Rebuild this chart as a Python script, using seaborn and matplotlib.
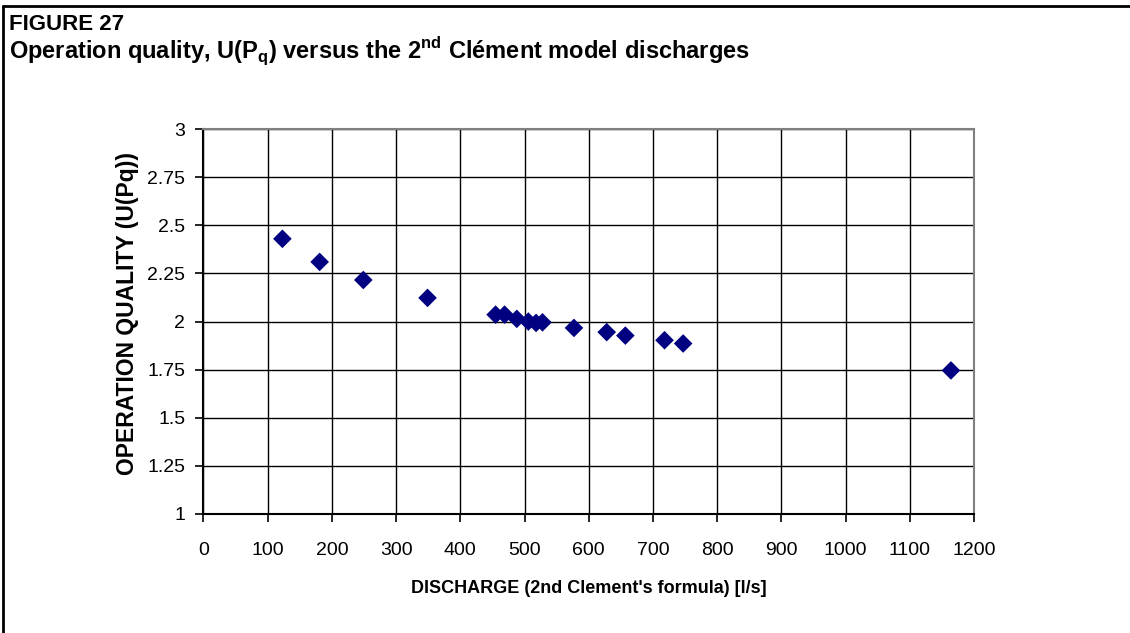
import matplotlib
matplotlib.use("Agg")
import matplotlib.pyplot as plt
import seaborn as sns
import pandas as pd

# valores
discharge = [123, 181, 249, 349, 455, 469, 488, 506, 518, 528, 577, 628, 657, 718, 747, 1164]
quality = [2.43, 2.31, 2.216, 2.123, 2.036, 2.036, 2.014, 2.0, 1.993, 1.996, 1.967,
           1.945, 1.927, 1.903, 1.886, 1.746]
x_ticks = list(range(0, 1300, 100))
y_ticks = [1, 1.25, 1.5, 1.75, 2, 2.25, 2.5, 2.75, 3]
y_tick_labels = ['1', '1.25', '1.5', '1.75', '2', '2.25', '2.5', '2.75', '3']

df = pd.DataFrame({'discharge': discharge, 'quality': quality})

sns.set_style('white')
plt.rcParams['font.family'] = ['Liberation Sans', 'DejaVu Sans']
plt.rcParams['text.color'] = 'black'
plt.rcParams['axes.labelcolor'] = 'black'
plt.rcParams['xtick.color'] = 'black'
plt.rcParams['ytick.color'] = 'black'
plt.rcParams['mathtext.fontset'] = 'custom'
plt.rcParams['mathtext.rm'] = 'Liberation Sans'
plt.rcParams['mathtext.bf'] = 'Liberation Sans:bold'

fig = plt.figure(figsize=(11.3, 6.33), dpi=100)
ax = fig.add_axes([0.180, 0.188, 0.682, 0.608])

sns.scatterplot(data=df, x='discharge', y='quality', marker='D', color='#000080',
                edgecolor='none', s=90, ax=ax, zorder=3)

ax.set_xlim(0, 1200)
ax.set_ylim(1, 3)
ax.set_xticks(x_ticks)
ax.set_yticks(y_ticks)
ax.set_yticklabels(y_tick_labels)
ax.grid(True, color='black', linewidth=1)
ax.set_axisbelow(True)
ax.tick_params(axis='both', direction='out', length=6, width=1.2, color='black',
               labelsize=14, bottom=True, left=True)
ax.tick_params(axis='y', pad=7)
ax.tick_params(axis='x', pad=14)

ax.spines['left'].set_color('black')
ax.spines['bottom'].set_color('black')
ax.spines['left'].set_linewidth(1.5)
ax.spines['bottom'].set_linewidth(1.5)
ax.spines['top'].set_color('#808080')
ax.spines['right'].set_color('#808080')
ax.spines['top'].set_linewidth(1.5)
ax.spines['right'].set_linewidth(1.5)

ax.set_xlabel("DISCHARGE (2nd Clement's formula) [l/s]", fontsize=13, fontweight='bold',
              labelpad=15)
ax.set_ylabel('OPERATION QUALITY (U(Pq))', fontsize=16.5, fontweight='bold')
ax.yaxis.set_label_coords(-0.084, 0.52)

fig.text(0.008, 0.962, 'FIGURE 27', fontsize=16, fontweight='bold', va='center', ha='left')
fig.text(0.008, 0.918,
         r'Operation quality, U(P$_\mathbf{q}$) versus the 2$^\mathbf{nd}$ Clément model discharges',
         fontsize=17, fontweight='bold', va='center', ha='left')

# moldura (linhas superior e esquerda)
fig.add_artist(plt.Line2D([0.003, 1.0], [0.991, 0.991], color='black', linewidth=2,
                          transform=fig.transFigure))
fig.add_artist(plt.Line2D([0.003, 0.003], [0.0, 0.991], color='black', linewidth=2,
                          transform=fig.transFigure))

fig.savefig('out.png', dpi=100, facecolor='white')
